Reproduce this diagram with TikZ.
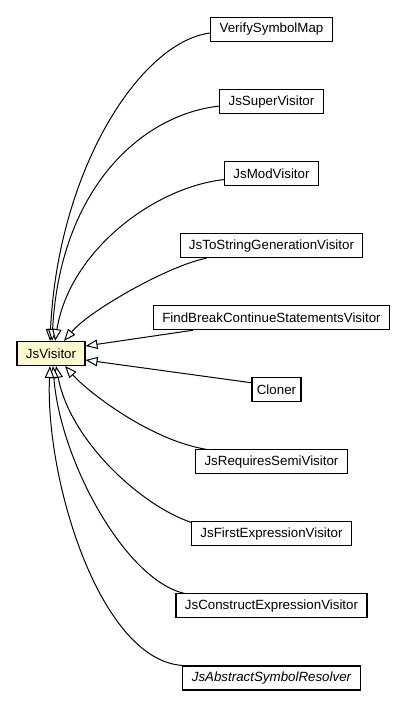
\documentclass[tikz,border=0pt]{standalone}
\usepackage{fontspec}
\setmainfont{Liberation Sans}
\usetikzlibrary{arrows.meta,calc,positioning}
\definecolor{rootfill}{HTML}{FFFACD}

\begin{document}
\begin{tikzpicture}[x=0.75pt,y=-0.75pt]
    \tikzstyle{cls}=[draw, line width=0.8pt, minimum height=18pt, inner xsep=6.7pt, inner ysep=0pt, font=\fontsize{10}{12}\selectfont, node distance=54.04pt]
    \tikzstyle{root}=[cls, fill=rootfill]
    \tikzstyle{edge}=[-{Triangle[fill=white, length=9pt, width=7pt]}, line width=0.75pt]

    \useasboundingbox (0,0) rectangle (405,707);

    \node[root] (visitor) at (51,353.5) {JsVisitor};
    \node[cls] (verify) at (271.5,29.5) {VerifySymbolMap};
    \node[cls, below of=verify] (super) {JsSuperVisitor};
    \node[cls, below of=super] (mod) {JsModVisitor};
    \node[cls, below of=mod] (tostring) {JsToStringGenerationVisitor};
    \node[cls, below of=tostring] (find) {FindBreakContinueStatementsVisitor};
    \node[cls, below of=find, xshift=3.75pt, minimum width=36.75pt, inner xsep=3pt] (cloner) {Cloner};
    \node[cls, below of=cloner, xshift=-3.75pt] (requires) {JsRequiresSemiVisitor};
    \node[cls, below of=requires] (first) {JsFirstExpressionVisitor};
    \node[cls, below of=first] (construct) {JsConstructExpressionVisitor};
    \node[cls, below of=construct] (abstract) {\itshape JsAbstractSymbolResolver};

    \draw[edge] ($(verify.west)+(0,3.5)$) .. controls (140,42) and (58,170) .. ($(visitor.north)+(-1,0)$);
    \draw[edge] ($(super.west)+(0,4.5)$) .. controls (140,115) and (60,190) .. ($(visitor.north)+(1,0)$);
    \draw[edge] ($(mod.west)+(0,6)$) .. controls (155,187) and (70,250) .. ($(visitor.north)+(4,0)$);
    \draw[edge] ($(tostring.south west)+(27,0)$) .. controls (170,265) and (90,310) .. ($(visitor.north)+(13,0)$);
    \draw[edge] ($(find.south west)+(40,0)$) -- ($(visitor.east)+(0,-7.5)$);
    \draw[edge] ($(cloner.west)+(0,-7)$) -- ($(visitor.east)+(0,6.5)$);
    \draw[edge] ($(requires.north west)+(11,0)$) .. controls (150,440) and (88,392) .. ($(visitor.south)+(14,0)$);
    \draw[edge] ($(first.north west)+(0,1)$) .. controls (140,505) and (70,440) .. ($(visitor.south)+(5,0)$);
    \draw[edge] ($(construct.north west)+(9,0)$) .. controls (125,580) and (60,460) .. ($(visitor.south)+(2,0)$);
    \draw[edge] (abstract.north west) .. controls (100,660) and (45,480) .. ($(visitor.south)+(-1,0)$);
\end{tikzpicture}
\end{document}
